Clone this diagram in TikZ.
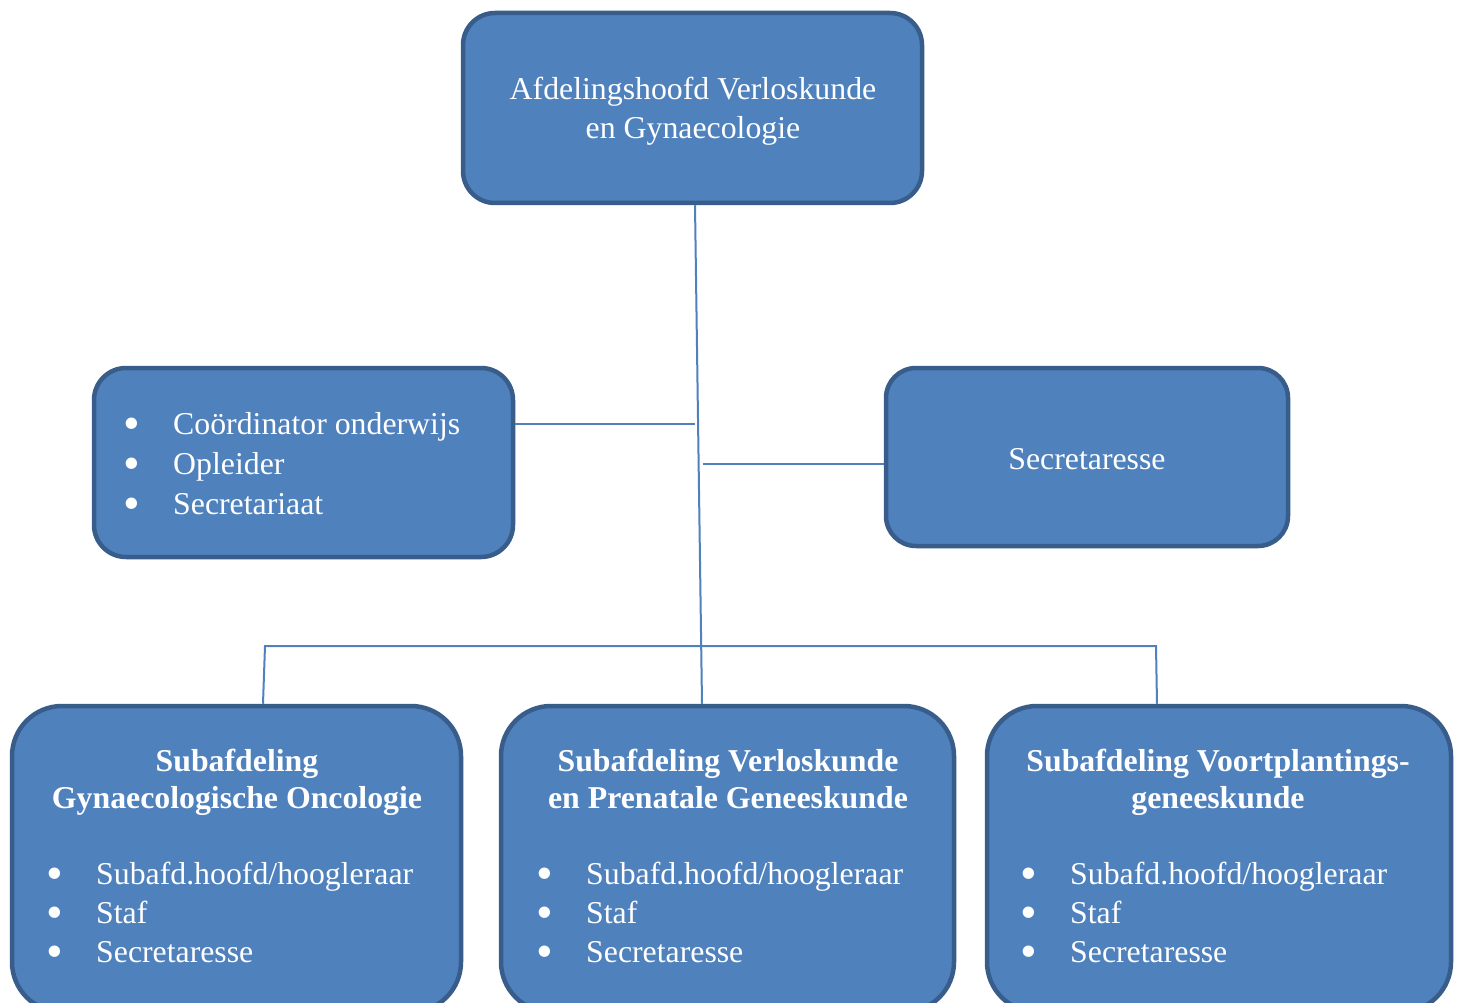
\documentclass[tikz,border=0pt]{standalone}
\usepackage{fontspec}
\setmainfont{Liberation Serif}
\definecolor{boxfill}{HTML}{4F81BD}
\definecolor{boxdraw}{HTML}{385D8A}
\tikzset{
  orgbox/.style={draw=boxdraw, fill=boxfill, line width=4.5pt, rounded corners=#1, inner sep=0pt},
  txt/.style={text=white, inner sep=0pt, font=\fontsize{31.8}{39}\selectfont},
  btxt/.style={text=white, inner sep=0pt, font=\fontsize{31.8}{39}\selectfont\bfseries},
  listtxt/.style={text=white, inner sep=0pt, align=left, anchor=north west, font=\fontsize{31.8}{#1}\selectfont},
  conn/.style={draw=boxfill, line width=2pt}
}
\newcommand\bul{\rule{0pt}{30pt}\makebox[0pt]{\smash{\raisebox{-5pt}{\scalebox{1.5}{\textbullet}}}}\hspace{41pt}}
\begin{document}
\begin{tikzpicture}[x=1pt, y=-1pt]
\clip (0,0) rectangle (1462,1003);
\fill[white] (0,0) rectangle (1462,1003);
% boxes
\node[orgbox=32pt, minimum width=459pt, minimum height=190pt] (top) at (692.5,108) {};
\node[orgbox=32pt, minimum width=419pt, minimum height=189pt] (left) at (303.5,462.5) {};
\node[orgbox=30pt, minimum width=402pt, minimum height=178pt] (sec) at (1087,457) {};
\node[orgbox=50pt, minimum width=449pt, minimum height=306pt] (bl) at (236.5,859) {};
\node[orgbox=50pt, minimum width=453pt, minimum height=306pt] (bm) at (727.5,859) {};
\node[orgbox=50pt, minimum width=464pt, minimum height=306pt] (br) at (1219,859) {};
% connectors
\coordinate (lb) at (695,424);
\coordinate (rb) at (703,464);
\coordinate (busL) at (265,646);
\coordinate (busR) at (1156,646);
\draw[conn] ([xshift=2.5pt]top.south) -- ([xshift=-25.5pt]bm.north);
\draw[conn] ([yshift=38.5pt]left.east) -- (lb);
\draw[conn] (rb) -- ([yshift=-7pt]sec.west);
\draw[conn] ([xshift=26.5pt]bl.north) -- (busL) -- (busR) -- ([xshift=-62pt]br.north);
% texts
\node[txt, anchor=base] (t1) at (693,100) {Afdelingshoofd Verloskunde};
\node[txt, anchor=base] (t2) at (693,139) {en Gynaecologie};
\node[listtxt=40] (llist) at (132,404) {\bul Coördinator onderwijs\\\bul Opleider\\\bul Secretariaat};
\node[txt, anchor=base] (s1) at (1087,469) {Secretaresse};
\node[btxt, anchor=base] (h11) at (237,771) {Subafdeling};
\node[btxt, anchor=base] (h12) at (237,808) {Gynaecologische Oncologie};
\node[btxt, anchor=base] (h21) at (728,771) {Subafdeling Verloskunde};
\node[btxt, anchor=base] (h22) at (728,808) {en Prenatale Geneeskunde};
\node[btxt, anchor=base] (h31) at (1218,771) {Subafdeling Voortplantings-};
\node[btxt, anchor=base] (h32) at (1218,808) {geneeskunde};
\node[listtxt=39.3] (alist) at (55,854) {\bul Subafd.hoofd/hoogleraar\\\bul Staf\\\bul Secretaresse};
\node[listtxt=39.3] (blist) at (545,854) {\bul Subafd.hoofd/hoogleraar\\\bul Staf\\\bul Secretaresse};
\node[listtxt=39.3] (clist) at (1029,854) {\bul Subafd.hoofd/hoogleraar\\\bul Staf\\\bul Secretaresse};
\end{tikzpicture}
\end{document}
